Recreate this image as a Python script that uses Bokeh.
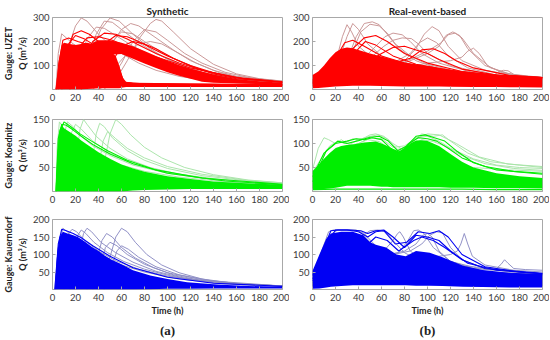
from bokeh.plotting import figure
from bokeh.models import Range1d, FixedTicker, Title
from bokeh.layouts import column, row
from bokeh.embed import file_html
from bokeh.resources import INLINE

# ---------------- labels / ticks ----------------
COL_TITLES = ["Synthetic", "Real-event-based"]
GAUGES = ["Gauge: UZET", "Gauge: Koednitz", "Gauge: Kauerndorf"]
Q_LABEL = "Q (m³/s)"
X_LABEL = "Time (h)"
PANEL_TAGS = ["(a)", "(b)"]
TIME_TICKS = [0, 20, 40, 60, 80, 100, 120, 140, 160, 180, 200]
Y_MAX = [300, 150, 200]
Y_TICKS = [[100, 200, 300], [50, 100, 150], [50, 100, 150, 200]]

# ---------------- Synthetic, UZET ----------------
A1_BAND1_T = [3, 5, 8, 10, 15, 20, 25, 30, 35, 40, 45, 50, 55, 58, 61, 64, 70, 90, 120, 160, 200]
A1_BAND1_LO = [0, 0, 0, 0, 0, 0, 0, 2, 3, 5, 5, 5, 5, 5, 8, 10, 10, 10, 10, 10, 10]
A1_BAND1_HI = [0, 110, 185, 195, 190, 185, 190, 195, 190, 180, 170, 160, 140, 100, 50, 32, 28, 27, 25, 23, 22]
A1_BAND2_T = [35, 40, 50, 60, 70, 80, 90, 100, 110, 120, 130, 140, 160, 180, 200]
A1_BAND2_LO = [120, 130, 145, 148, 128, 108, 90, 72, 57, 45, 32, 28, 25, 22, 20]
A1_BAND2_HI = [195, 205, 205, 195, 180, 160, 140, 120, 102, 88, 75, 62, 44, 34, 28]
A1_OUT_T = [
    [3, 8, 14, 20, 25, 30, 40, 50, 60, 75, 90, 110, 130, 160, 200],
    [15, 25, 35, 42, 50, 58, 70, 85, 100, 120, 140, 170, 200],
    [40, 55, 65, 75, 85, 90, 95, 105, 120, 140, 160, 180, 200],
    [25, 40, 50, 60, 68, 75, 90, 105, 120, 140, 160, 200],
    [3, 5, 8, 12, 18, 25, 35, 45, 55, 60, 63, 80, 200],
    [10, 20, 30, 38, 45, 55, 70, 90, 110, 130, 160, 200],
    [30, 40, 50, 60, 70, 80, 95, 110, 130, 150, 175, 200],
    [20, 30, 38, 45, 52, 60, 75, 90, 110, 130, 150, 180, 200],
    [45, 60, 70, 80, 90, 100, 115, 130, 150, 175, 200],
    [35, 50, 65, 75, 85, 95, 110, 125, 145, 170, 200],
]
A1_OUT_Q = [
    [0, 60, 180, 265, 298, 285, 230, 185, 150, 110, 80, 55, 40, 28, 22],
    [0, 60, 170, 250, 298, 285, 230, 170, 125, 85, 58, 38, 30],
    [0, 40, 120, 210, 275, 292, 285, 240, 170, 105, 65, 45, 35],
    [0, 90, 180, 250, 275, 265, 215, 165, 120, 80, 55, 33],
    [0, 150, 232, 215, 190, 170, 150, 130, 100, 60, 25, 20, 18],
    [0, 90, 210, 260, 255, 225, 180, 130, 95, 68, 42, 28],
    [0, 80, 190, 240, 232, 200, 155, 118, 82, 58, 38, 30],
    [0, 110, 230, 285, 280, 250, 195, 150, 105, 72, 52, 35, 30],
    [0, 110, 200, 250, 240, 205, 150, 110, 72, 45, 35],
    [0, 70, 150, 190, 200, 190, 150, 110, 70, 42, 30],
]
A1_IN_T = [
    [3, 8, 14, 20, 28, 38, 50, 58, 62, 80, 200],
    [3, 6, 9, 14, 22, 32, 45, 56, 61, 90, 200],
    [8, 14, 22, 30, 40, 52, 60, 70, 90, 120, 160, 200],
    [5, 12, 18, 25, 32, 40, 50, 58, 62, 70, 200],
    [15, 25, 35, 45, 55, 65, 75, 90, 110, 130, 160, 200],
    [25, 35, 45, 55, 65, 75, 85, 100, 120, 140, 170, 200],
    [40, 50, 60, 70, 80, 90, 105, 120, 140, 160, 200],
]
A1_IN_Q = [
    [0, 90, 190, 225, 210, 180, 130, 80, 25, 22, 20],
    [0, 120, 205, 215, 200, 185, 160, 110, 30, 20, 15],
    [0, 80, 170, 215, 220, 205, 190, 170, 135, 90, 50, 32],
    [0, 150, 230, 245, 230, 200, 150, 90, 30, 25, 20],
    [0, 100, 200, 235, 230, 210, 185, 150, 110, 80, 48, 30],
    [0, 90, 190, 225, 220, 200, 175, 140, 100, 70, 42, 30],
    [0, 100, 180, 200, 190, 170, 130, 98, 65, 45, 30],
]

# ---------------- Real-event-based, UZET ----------------
B1_BAND_T = [0, 5, 10, 15, 20, 25, 30, 35, 40, 50, 60, 70, 80, 90, 100, 110, 120, 140, 160, 180, 200]
B1_BAND_LO = [5, 6, 8, 10, 12, 14, 15, 16, 16, 16, 15, 14, 13, 12, 12, 12, 11, 10, 10, 9, 8]
B1_BAND_HI = [60, 75, 100, 130, 155, 170, 175, 172, 165, 150, 138, 125, 112, 105, 98, 90, 82, 70, 60, 55, 52]
B1_OUT_T = [
    [0, 10, 20, 26, 30, 34, 40, 50, 60, 80, 100, 130, 160, 200],
    [0, 15, 25, 30, 35, 40, 48, 60, 80, 110, 140, 170, 200],
    [0, 15, 30, 38, 45, 52, 58, 65, 75, 90, 110, 140, 170, 200],
    [0, 20, 35, 42, 50, 58, 65, 72, 85, 100, 130, 160, 200],
    [0, 20, 40, 55, 63, 70, 78, 85, 95, 110, 140, 170, 200],
    [0, 30, 50, 62, 70, 78, 86, 92, 100, 120, 150, 200],
    [0, 30, 60, 80, 90, 97, 104, 110, 118, 130, 150, 180, 200],
    [0, 40, 80, 100, 110, 116, 122, 128, 135, 150, 170, 200],
    [0, 40, 80, 100, 112, 118, 124, 130, 140, 155, 175, 200],
    [0, 60, 100, 120, 130, 135, 140, 145, 152, 165, 185, 200],
    [0, 60, 120, 150, 158, 162, 166, 170, 176, 185, 200],
    [0, 40, 70, 85, 93, 100, 108, 118, 135, 160, 200],
]
B1_OUT_Q = [
    [30, 50, 110, 220, 270, 240, 180, 140, 115, 90, 75, 60, 48, 40],
    [20, 60, 150, 220, 275, 250, 190, 140, 100, 75, 58, 48, 40],
    [25, 50, 120, 220, 275, 282, 270, 230, 170, 120, 85, 60, 48, 42],
    [15, 60, 160, 240, 272, 265, 235, 190, 140, 105, 70, 52, 42],
    [20, 50, 110, 180, 220, 235, 228, 200, 150, 110, 70, 52, 44],
    [20, 70, 130, 180, 205, 215, 212, 190, 150, 100, 65, 45],
    [25, 60, 90, 120, 170, 230, 262, 245, 180, 120, 80, 55, 48],
    [20, 60, 110, 150, 180, 225, 240, 225, 170, 100, 65, 50],
    [25, 70, 115, 160, 195, 228, 235, 215, 150, 90, 60, 48],
    [30, 70, 110, 120, 135, 160, 172, 150, 100, 70, 55, 50],
    [25, 55, 60, 55, 60, 75, 80, 78, 60, 50, 45],
    [20, 70, 110, 150, 195, 215, 195, 140, 90, 60, 45],
]
B1_IN_T = [
    [0, 10, 20, 28, 35, 45, 60, 80, 100, 130, 160, 200],
    [0, 15, 30, 40, 46, 55, 70, 90, 120, 150, 200],
    [0, 20, 35, 45, 55, 65, 80, 100, 130, 170, 200],
    [0, 30, 50, 60, 70, 80, 90, 100, 110, 130, 160, 200],
    [0, 40, 70, 85, 95, 105, 115, 125, 140, 170, 200],
]
B1_IN_Q = [
    [40, 70, 130, 195, 205, 180, 140, 110, 90, 70, 58, 50],
    [30, 50, 110, 170, 200, 185, 140, 105, 80, 62, 48],
    [35, 90, 170, 215, 225, 200, 150, 110, 75, 55, 48],
    [30, 80, 120, 150, 175, 180, 165, 150, 125, 85, 60, 50],
    [25, 70, 110, 130, 165, 170, 150, 120, 90, 60, 50],
]

# ---------------- Synthetic, Koednitz ----------------
A2_BAND_T = [3, 4, 6, 8, 10, 15, 20, 25, 30, 40, 50, 60, 70, 80, 100, 120, 140, 160, 180, 200]
A2_BAND_LO = [0, 0, 0, 0, 0, 0, 0, 0, 0, 0, 0, 0, 2, 3, 4, 5, 5, 5, 5, 5]
A2_BAND_HI = [0, 70, 128, 138, 132, 124, 116, 106, 98, 82, 68, 56, 48, 41, 32, 26, 21, 18, 16, 14]
A2_OUT_T = [
    [3, 4, 6, 8, 12, 20, 30, 45, 60, 80, 110, 150, 200],
    [4, 8, 13, 18, 25, 35, 50, 70, 100, 140, 200],
    [15, 20, 24, 27, 30, 38, 50, 65, 85, 110, 150, 200],
    [30, 35, 38, 41, 45, 52, 65, 80, 100, 130, 170, 200],
    [40, 45, 50, 55, 60, 68, 80, 95, 115, 140, 170, 200],
    [5, 10, 15, 20, 25, 35, 50, 70, 100, 140, 200],
    [35, 40, 44, 48, 55, 65, 80, 100, 130, 170, 200],
]
A2_OUT_Q = [
    [0, 90, 145, 138, 120, 100, 85, 68, 55, 42, 30, 20, 14],
    [0, 100, 145, 135, 115, 95, 75, 55, 38, 24, 15],
    [0, 60, 130, 150, 140, 115, 90, 68, 50, 36, 24, 16],
    [0, 70, 120, 142, 135, 112, 85, 65, 48, 33, 22, 17],
    [0, 60, 120, 150, 140, 118, 92, 70, 50, 35, 24, 18],
    [0, 60, 115, 140, 130, 105, 80, 58, 40, 25, 15],
    [0, 50, 105, 125, 110, 90, 70, 52, 36, 23, 18],
]
A2_IN_T = [
    [3, 5, 8, 12, 18, 25, 35, 50, 70, 100, 150, 200],
    [3, 6, 10, 16, 24, 34, 48, 65, 90, 130, 200],
]
A2_IN_Q = [
    [0, 110, 140, 138, 128, 115, 98, 78, 58, 38, 22, 14],
    [0, 120, 145, 135, 120, 105, 85, 65, 45, 28, 15],
]

# ---------------- Real-event-based, Koednitz ----------------
B2_BAND_T = [0, 5, 10, 15, 20, 25, 30, 35, 40, 45, 50, 55, 60, 65, 70, 75, 80, 85, 90, 95, 100, 110, 120, 130, 140, 160, 180, 200]
B2_BAND_LO = [3, 4, 5, 6, 8, 10, 12, 12, 12, 12, 12, 11, 10, 10, 9, 9, 9, 9, 9, 9, 9, 9, 8, 8, 8, 7, 7, 6]
B2_BAND_HI = [42, 55, 68, 80, 90, 95, 97, 98, 100, 102, 103, 104, 100, 95, 88, 84, 90, 100, 106, 107, 105, 95, 78, 62, 50, 38, 32, 28]
B2_OUT_T = [
    [0, 5, 10, 14, 20, 25, 30, 40, 55, 70, 90, 110, 140, 170, 200],
    [0, 8, 15, 22, 28, 35, 42, 50, 55, 62, 70, 80, 90, 100, 110, 125, 145, 170, 200],
    [0, 10, 20, 30, 40, 50, 57, 65, 75, 85, 95, 105, 113, 120, 135, 155, 180, 200],
    [0, 10, 20, 30, 40, 50, 60, 70, 80, 90, 100, 110, 120, 140, 160, 180, 200],
    [0, 12, 25, 38, 48, 58, 70, 85, 95, 105, 115, 130, 150, 175, 200],
]
B2_OUT_Q = [
    [45, 90, 112, 108, 100, 108, 100, 95, 90, 80, 70, 60, 50, 45, 42],
    [40, 70, 95, 105, 100, 110, 108, 118, 120, 115, 100, 85, 110, 120, 118, 100, 72, 57, 52],
    [30, 60, 85, 95, 108, 115, 118, 110, 85, 100, 120, 115, 118, 105, 80, 62, 55, 50],
    [35, 65, 90, 95, 100, 112, 110, 92, 95, 112, 115, 105, 90, 68, 55, 50, 48],
    [25, 55, 80, 98, 108, 104, 85, 95, 108, 104, 95, 75, 58, 48, 44],
]
B2_IN_T = [
    [0, 10, 20, 30, 38, 45, 52, 60, 68, 76, 84, 92, 100, 108, 118, 130, 150, 175, 200],
    [0, 12, 22, 30, 40, 50, 58, 66, 74, 82, 90, 98, 106, 115, 125, 140, 160, 200],
    [0, 20, 40, 60, 80, 100, 130, 160, 200],
]
B2_IN_Q = [
    [30, 80, 100, 105, 110, 108, 112, 108, 90, 80, 100, 112, 110, 105, 90, 70, 52, 42, 38],
    [20, 85, 105, 100, 106, 113, 115, 105, 85, 95, 115, 118, 112, 105, 85, 60, 45, 36],
    [4, 5, 5, 5, 5, 5, 5, 4, 4],
]

# ---------------- Synthetic, Kauerndorf ----------------
A3_BAND_T = [2, 4, 6, 9, 13, 18, 22, 28, 34, 40, 45, 51, 60, 70, 85, 100, 117, 143, 170, 200]
A3_BAND_LO = [0, 0, 0, 0, 0, 0, 0, 0, 0, 0, 0, 0, 0, 0, 1, 2, 2, 3, 3, 3]
A3_BAND_HI = [0, 100, 150, 165, 160, 155, 150, 137, 122, 110, 98, 86, 72, 55, 40, 30, 21, 14, 10, 8]
A3_OUT_T = [
    [2, 5, 9, 13, 20, 30, 45, 60, 80, 110, 150, 200],
    [4, 10, 14, 17, 21, 28, 40, 55, 75, 100, 140, 200],
    [10, 17, 22, 25, 29, 36, 48, 62, 80, 105, 140, 200],
    [15, 22, 27, 30, 34, 42, 55, 70, 90, 115, 150, 200],
    [30, 38, 43, 47, 52, 60, 72, 88, 105, 130, 165, 200],
    [40, 48, 55, 60, 65, 72, 82, 95, 110, 130, 160, 200],
    [35, 42, 46, 50, 56, 65, 80, 100, 130, 170, 200],
    [45, 52, 56, 60, 66, 75, 90, 110, 140, 200],
]
A3_OUT_Q = [
    [0, 120, 175, 165, 140, 115, 90, 70, 50, 30, 16, 9],
    [0, 110, 160, 172, 165, 140, 110, 82, 58, 38, 20, 10],
    [0, 100, 155, 170, 160, 135, 105, 80, 58, 37, 20, 10],
    [0, 90, 160, 175, 165, 135, 105, 78, 52, 32, 18, 10],
    [0, 80, 140, 160, 150, 120, 90, 62, 42, 25, 14, 10],
    [0, 70, 150, 175, 165, 135, 100, 70, 48, 30, 17, 10],
    [0, 70, 120, 135, 125, 100, 72, 48, 28, 14, 10],
    [0, 70, 110, 125, 115, 92, 65, 42, 24, 10],
]
A3_IN_T = [
    [2, 5, 8, 12, 18, 25, 35, 50, 70, 100, 140, 200],
]
A3_IN_Q = [
    [0, 130, 172, 168, 160, 148, 125, 95, 62, 35, 18, 9],
]

# ---------------- Real-event-based, Kauerndorf ----------------
B3_BAND_T = [0, 6, 12, 16, 25, 35, 44, 50, 55, 64, 73, 81, 90, 102, 113, 131, 148, 171, 200]
B3_BAND_LO = [2, 3, 6, 8, 10, 12, 12, 12, 12, 12, 12, 12, 11, 11, 10, 8, 7, 6, 6]
B3_BAND_HI = [53, 100, 145, 160, 165, 165, 155, 135, 128, 120, 100, 95, 110, 105, 92, 68, 56, 48, 44]
B3_OUT_T = [
    [0, 8, 14, 18, 25, 32, 40, 46, 55, 70, 90, 120, 160, 200],
    [0, 15, 30, 42, 50, 57, 64, 70, 80, 95, 120, 150, 200],
    [0, 20, 45, 62, 70, 74, 76, 79, 85, 95, 115, 150, 200],
    [0, 30, 60, 75, 83, 88, 92, 97, 105, 120, 145, 175, 200],
    [0, 40, 70, 85, 95, 102, 108, 113, 120, 130, 150, 180, 200],
    [0, 50, 90, 110, 120, 126, 129, 132, 135, 139, 150, 175, 200],
    [0, 60, 120, 150, 160, 164, 167, 170, 175, 185, 200],
    [0, 30, 60, 80, 90, 96, 100, 104, 110, 120, 140, 200],
    [0, 10, 17, 22, 30, 38, 45, 52, 60, 75, 100, 140, 200],
]
B3_OUT_Q = [
    [40, 110, 165, 170, 170, 170, 168, 150, 120, 90, 70, 55, 45, 40],
    [30, 80, 120, 150, 168, 170, 165, 140, 105, 80, 60, 50, 42],
    [25, 60, 95, 110, 140, 160, 165, 150, 110, 85, 65, 50, 42],
    [30, 70, 95, 105, 140, 168, 170, 160, 120, 80, 60, 50, 45],
    [25, 80, 100, 110, 130, 155, 165, 162, 120, 85, 60, 50, 45],
    [20, 70, 90, 95, 100, 110, 130, 160, 130, 95, 70, 55, 50],
    [30, 60, 70, 62, 60, 72, 85, 75, 60, 57, 55],
    [20, 70, 95, 110, 130, 155, 160, 150, 110, 80, 60, 45],
    [35, 95, 160, 170, 170, 170, 160, 135, 110, 85, 65, 50, 42],
]
B3_IN_T = [
    [0, 10, 16, 22, 32, 42, 48, 55, 62, 70, 80, 90, 100, 110, 120, 135, 160, 200],
    [0, 12, 20, 30, 40, 48, 55, 62, 72, 82, 92, 102, 110, 118, 130, 150, 180, 200],
    [0, 15, 30, 45, 55, 65, 75, 88, 95, 105, 115, 130, 150, 200],
]
B3_IN_Q = [
    [40, 120, 168, 170, 170, 168, 160, 168, 170, 150, 120, 155, 150, 140, 110, 75, 55, 45],
    [30, 130, 170, 170, 165, 150, 165, 168, 130, 135, 165, 160, 168, 150, 100, 65, 50, 45],
    [25, 90, 130, 120, 150, 140, 110, 140, 150, 140, 120, 85, 60, 46],
]

# ---------------- styling ----------------
DENSE = ["#ff0000", "#00ee00", "#0000f4"]
FAINT = ["#c89494", "#a8e4a8", "#8c8cc4"]
TICK_FONT = "Lato"

W_A, W_B = 289, 260
BORDER_LEFT = [51, 22]
ROW_H = [109, 101, 129]
BORDER_TOP = [17, 10, 9]
BORDER_BOTTOM = [20, 19, 50]


def panel(r, c, bands, out_t, out_q, in_t, in_q):
    is_a = (c == 0)
    p = figure(width=W_A if is_a else W_B, height=ROW_H[r],
               output_backend="svg", toolbar_location=None,
               x_range=Range1d(0, 200), y_range=Range1d(0, Y_MAX[r]),
               min_border_left=BORDER_LEFT[c], min_border_right=7,
               min_border_top=BORDER_TOP[r], min_border_bottom=BORDER_BOTTOM[r],
               title=COL_TITLES[c] if r == 0 else None)
    if r == 0:
        p.title.align = "center"
        p.title.text_font = "Lato"
        p.title.text_font_size = "10px"
        p.title.text_font_style = "bold"
        p.title.text_color = "#222222"
        p.title.standoff = 1
    # faint outlier hydrographs (beneath the dense mass)
    p.multi_line(xs=out_t, ys=out_q, line_color=FAINT[r], line_width=1.0, line_alpha=0.95)
    # dense ensemble core
    for (bt, blo, bhi) in bands:
        p.varea(x=bt, y1=blo, y2=bhi, fill_color=DENSE[r], fill_alpha=1.0)
    # individual bright hydrographs on top
    if in_t:
        p.multi_line(xs=in_t, ys=in_q, line_color=DENSE[r], line_width=1.1)

    p.xgrid.visible = False
    p.ygrid.visible = False
    p.outline_line_color = "#a8a8a8"
    p.outline_line_width = 1
    p.background_fill_color = "white"
    p.border_fill_color = "white"

    p.xaxis.ticker = FixedTicker(ticks=TIME_TICKS)
    p.yaxis.ticker = FixedTicker(ticks=Y_TICKS[r])
    for ax in (p.xaxis[0], p.yaxis[0]):
        ax.axis_line_color = None
        ax.major_tick_in = 3
        ax.major_tick_out = 0
        ax.major_tick_line_color = "#a8a8a8"
        ax.minor_tick_line_color = None
        ax.major_label_text_font = TICK_FONT
        ax.major_label_text_font_size = "9.5px"
        ax.major_label_text_color = "#3a3a3a"
    p.xaxis.major_label_standoff = 4
    p.yaxis.major_label_standoff = 3

    if is_a:
        p.yaxis.axis_label = Q_LABEL
        p.yaxis.axis_label_text_font = "Lato"
        p.yaxis.axis_label_text_font_size = "9px"
        p.yaxis.axis_label_text_font_style = "bold"
        p.yaxis.axis_label_text_color = "#222222"
        p.yaxis.axis_label_standoff = 2
        p.add_layout(Title(text=GAUGES[r], align="center", text_font="Lato",
                           text_font_size="9px", text_font_style="bold",
                           text_color="#222222", standoff=0), "left")
    if r == 2:
        p.xaxis.axis_label = X_LABEL
        p.xaxis.axis_label_text_font = "Lato"
        p.xaxis.axis_label_text_font_size = "9px"
        p.xaxis.axis_label_text_font_style = "bold"
        p.xaxis.axis_label_text_color = "#222222"
        p.xaxis.axis_label_standoff = 1
        p.add_layout(Title(text=PANEL_TAGS[c], align="center",
                           text_font="Liberation Serif", text_font_size="13px",
                           text_font_style="bold", text_color="#222222",
                           standoff=4), "below")
    return p


a1 = panel(0, 0, [(A1_BAND1_T, A1_BAND1_LO, A1_BAND1_HI), (A1_BAND2_T, A1_BAND2_LO, A1_BAND2_HI)],
           A1_OUT_T, A1_OUT_Q, A1_IN_T, A1_IN_Q)
b1 = panel(0, 1, [(B1_BAND_T, B1_BAND_LO, B1_BAND_HI)], B1_OUT_T, B1_OUT_Q, B1_IN_T, B1_IN_Q)
a2 = panel(1, 0, [(A2_BAND_T, A2_BAND_LO, A2_BAND_HI)], A2_OUT_T, A2_OUT_Q, A2_IN_T, A2_IN_Q)
b2 = panel(1, 1, [(B2_BAND_T, B2_BAND_LO, B2_BAND_HI)], B2_OUT_T, B2_OUT_Q, B2_IN_T, B2_IN_Q)
a3 = panel(2, 0, [(A3_BAND_T, A3_BAND_LO, A3_BAND_HI)], A3_OUT_T, A3_OUT_Q, A3_IN_T, A3_IN_Q)
b3 = panel(2, 1, [(B3_BAND_T, B3_BAND_LO, B3_BAND_HI)], B3_OUT_T, B3_OUT_Q, B3_IN_T, B3_IN_Q)

layout = column(row(a1, b1), row(a2, b2), row(a3, b3), spacing=0)

open("out.html", "w").write(file_html(layout, INLINE))
